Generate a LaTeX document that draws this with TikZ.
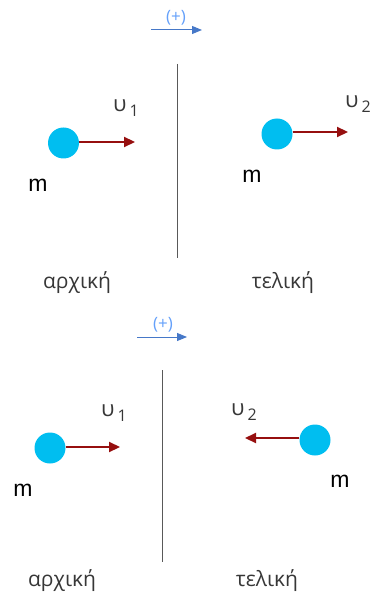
\documentclass[tikz,border=0pt]{standalone}
\usepackage{fontspec}
\setmainfont{Open Sans}
\newfontfamily\massfont{Liberation Sans}
\usetikzlibrary{arrows.meta, positioning}
\usepackage{xcolor}

\definecolor{ballcyan}{RGB}{0,190,240}
\definecolor{velred}{RGB}{150,15,15}
\definecolor{plusblue}{RGB}{70,120,200}
\definecolor{pluslight}{RGB}{100,160,250}
\definecolor{txtgray}{RGB}{55,55,55}

\newcommand{\vlabel}[1]{υ\kern3pt\raisebox{-0.45ex}{\fontsize{16}{16}\selectfont #1}}

\begin{document}
\begin{tikzpicture}[
  x=1pt, y=-1pt,
  ball/.style={circle, fill=ballcyan, minimum size=31pt, inner sep=0pt},
  vel/.style={-{Triangle[length=11pt, width=10pt]}, velred, line width=2.2pt},
  plusarr/.style={-{Triangle[length=10pt, width=8pt]}, plusblue, line width=1pt},
  wall/.style={draw=gray!70!black, line width=0.9pt},
  mass/.style={font=\massfont\fontsize{23}{23}\selectfont, text=black},
  vtext/.style={font=\fontsize{22}{22}\selectfont, text=txtgray},
  plustext/.style={font=\fontsize{17}{17}\selectfont, text=pluslight},
  caption/.style={font=\fontsize{21}{21}\selectfont, text=txtgray, anchor=base}
]
\useasboundingbox (0,0) rectangle (374,593);

% top: both move to the right
\coordinate (plusA1) at (151,30);
\coordinate (plusA2) at (202,30);
\draw[plusarr] (plusA1) -- (plusA2);
\node[plustext] (plusA) at (176,18) {(+)};

\coordinate (wallA1) at (177,64);
\coordinate (wallA2) at (177,258);
\draw[wall] (wallA1) -- (wallA2);

\node[ball] (ballA1) at (63.5,143) {};
\coordinate (tipA1) at (135,142);
\draw[vel] (ballA1.east |- tipA1) -- (tipA1);
\node[vtext] (vA1) at (126,108) {\vlabel{1}};
\node[mass] (mA1) at (38,185) {m};

\node[ball] (ballA2) at (277,134) {};
\coordinate (tipA2) at (348,132);
\draw[vel] (ballA2.east |- tipA2) -- (tipA2);
\node[vtext] (vA2) at (358,104) {\vlabel{2}};
\node[mass] (mA2) at (252,176) {m};

\node[caption] (initA) at (77,288) {αρχική};
\node[caption] (finA) at (283,288) {τελική};

% bottom: the ball comes back
\coordinate (plusB1) at (137,337);
\coordinate (plusB2) at (187,337);
\draw[plusarr] (plusB1) -- (plusB2);
\node[plustext] (plusB) at (163,325) {(+)};

\coordinate (wallB1) at (162,370);
\coordinate (wallB2) at (162,562);
\draw[wall] (wallB1) -- (wallB2);

\node[ball] (ballB1) at (50,448) {};
\coordinate (tipB1) at (120,447);
\draw[vel] (ballB1.east |- tipB1) -- (tipB1);
\node[vtext] (vB1) at (114,413) {\vlabel{1}};
\node[mass] (mB1) at (23,490) {m};

\node[ball] (ballB2) at (315,440) {};
\coordinate (tipB2) at (245,438);
\draw[vel] (ballB2.west |- tipB2) -- (tipB2);
\node[vtext] (vB2) at (244,412) {\vlabel{2}};
\node[mass] (mB2) at (340,481) {m};

\node[caption] (initB) at (62,586) {αρχική};
\node[caption] (finB) at (267,586) {τελική};
\end{tikzpicture}
\end{document}
